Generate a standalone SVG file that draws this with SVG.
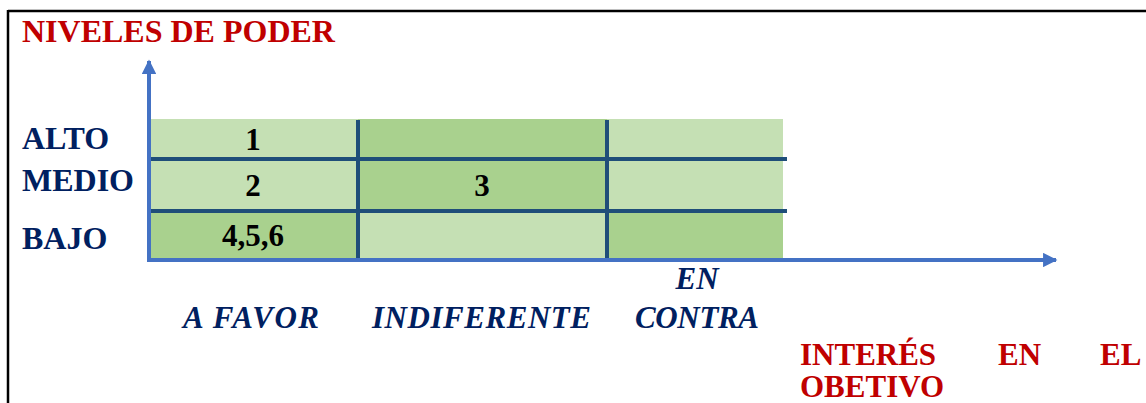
<svg xmlns="http://www.w3.org/2000/svg" width="1146" height="403" viewBox="0 0 1146 403">
<defs>
<style>
.t{font-family:"Liberation Serif","Times New Roman",serif;font-weight:bold;font-size:31px}
.big{font-size:32px}
.red{fill:#C00000}
.navy{fill:#002060}
.blk{fill:#000000}
.ital{font-style:italic}
.lt{fill:#C5E0B4}
.dk{fill:#A9D18E}
.grid{stroke:#1F4E79;stroke-width:4;fill:none}
.axis{stroke:#4472C4;stroke-width:4;fill:none}
</style>
<marker id="ah" viewBox="0 0 10 10" refX="9" refY="5" markerWidth="4" markerHeight="3.6" markerUnits="strokeWidth" orient="auto">
<path d="M0,0 L10,5 L0,10 Z" fill="#4472C4"/>
</marker>
</defs>
<rect width="1146" height="403" fill="#FFFFFF"/>
<g id="frame" stroke="#000" stroke-width="2.5" fill="none">
<line x1="8" y1="11" x2="1146" y2="11"/>
<line x1="8" y1="10" x2="8" y2="403"/>
</g>
<g id="title"><text class="t big red" x="22" y="42">NIVELES DE PODER</text></g>
<g id="cells">
<rect class="lt" x="151" y="119" width="207" height="40"/>
<rect class="dk" x="358" y="119" width="249" height="40"/>
<rect class="lt" x="607" y="119" width="176" height="40"/>
<rect class="lt" x="151" y="159" width="207" height="52"/>
<rect class="dk" x="358" y="159" width="249" height="52"/>
<rect class="lt" x="607" y="159" width="176" height="52"/>
<rect class="dk" x="151" y="211" width="207" height="48"/>
<rect class="lt" x="358" y="211" width="249" height="48"/>
<rect class="dk" x="607" y="211" width="176" height="48"/>
</g>
<g id="gridlines">
<line class="grid" x1="151" y1="159" x2="787" y2="159"/>
<line class="grid" x1="151" y1="211" x2="787" y2="211"/>
<line class="grid" x1="358" y1="120" x2="358" y2="259"/>
<line class="grid" x1="607" y1="120" x2="607" y2="259"/>
</g>
<g id="connectors">
<line class="axis" x1="149" y1="262" x2="149" y2="61" marker-end="url(#ah)"/>
<line class="axis" x1="147" y1="260" x2="1056" y2="260" marker-end="url(#ah)"/>
</g>
<g id="row-labels">
<text class="t big navy" x="22" y="149">ALTO</text>
<text class="t big navy" x="22" y="191">MEDIO</text>
<text class="t big navy" x="22" y="249">BAJO</text>
</g>
<g id="cell-values" text-anchor="middle">
<text class="t blk" x="253" y="150">1</text>
<text class="t blk" x="253" y="196">2</text>
<text class="t blk" x="482" y="196">3</text>
<text class="t blk" x="253" y="246">4,5,6</text>
</g>
<g id="col-labels">
<text class="t navy ital" x="183" y="328" textLength="136" lengthAdjust="spacing">A FAVOR</text>
<text class="t navy ital" x="372" y="328" textLength="219" lengthAdjust="spacing">INDIFERENTE</text>
<text class="t navy ital" x="697" y="289" text-anchor="middle">EN</text>
<text class="t navy ital" x="635" y="328" textLength="124" lengthAdjust="spacing">CONTRA</text>
</g>
<g id="x-title">
<text class="t red" x="800" y="365">INTERÉS</text>
<text class="t red" x="998" y="365">EN</text>
<text class="t red" x="1100" y="365">EL</text>
<text class="t red" x="800" y="397">OBETIVO</text>
</g>
</svg>
